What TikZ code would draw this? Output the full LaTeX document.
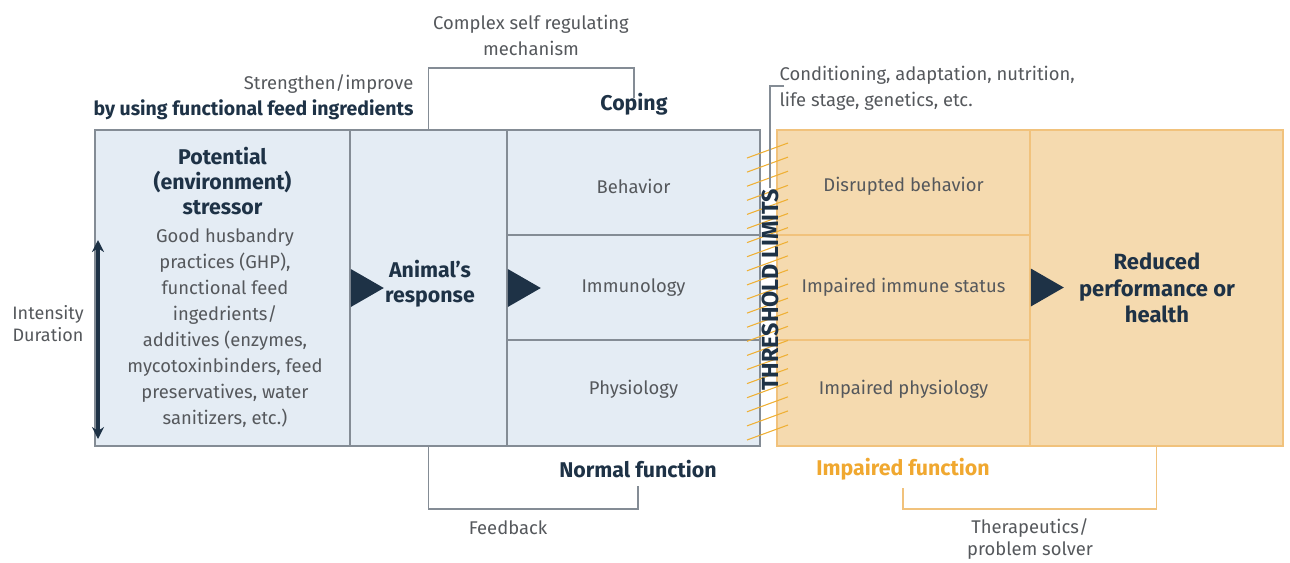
\documentclass[tikz,border=0pt]{standalone}
\usepackage{fontspec}
\setmainfont{Fira Sans}
\usetikzlibrary{positioning,arrows.meta}

\definecolor{boxblue}{HTML}{E4ECF4}
\definecolor{edgegray}{HTML}{848C95}
\definecolor{navy}{HTML}{1E3246}
\definecolor{boxorange}{HTML}{F5DAAF}
\definecolor{edgeorange}{HTML}{F1C27C}
\definecolor{textorange}{HTML}{F0A830}
\definecolor{hatchorange}{HTML}{EFB035}
\definecolor{txtgray}{HTML}{55585C}

\tikzset{
  bluebox/.style 2 args={draw=edgegray, line width=1.2pt, fill=boxblue,
    minimum width=#1*0.75pt, minimum height=#2*0.75pt, inner sep=0pt},
  orangebox/.style 2 args={draw=edgeorange, line width=1.2pt, fill=boxorange,
    minimum width=#1*0.75pt, minimum height=#2*0.75pt, inner sep=0pt},
  graytext/.style={text=txtgray, font=\fontsize{13.8}{19.5}\selectfont, align=center, inner sep=1pt},
  headtext/.style={text=navy, font=\bfseries\fontsize{16}{18.5}\selectfont, align=center, inner sep=1pt},
  bracket/.style={draw=edgegray, line width=0.9pt},
  obracket/.style={draw=edgeorange, line width=0.9pt},
  hatch/.style={draw=hatchorange, line width=0.8pt},
}

\begin{document}
\begin{tikzpicture}[x=0.75pt, y=-0.75pt]
  \useasboundingbox (0,0) rectangle (1290,562);

  % normal side
  \node[bluebox={255}{316}] (stress) at (222.5,288) {};
  \node[bluebox={157}{316}] (resp) at (428.5,288) {};
  \node[bluebox={253}{105}] (beh) at (633.5,182.5) {};
  \node[bluebox={253}{105}] (imm) at (633.5,287.5) {};
  \node[bluebox={253}{106}] (phy) at (633.5,393) {};

  % impaired side
  \node[orangebox={253}{105}] (dbeh) at (903.5,182.5) {};
  \node[orangebox={253}{105}] (dimm) at (903.5,287.5) {};
  \node[orangebox={253}{106}] (dphy) at (903.5,393) {};
  \node[orangebox={253}{316}] (red) at (1156.5,288) {};

  % texts in the boxes
  \node[headtext] (stresshead) at (222.5,181) {Potential\\(environment)\\stressor};
  \node[graytext] (stressbody) at (225,328) {Good husbandry\\practices (GHP),\\functional feed\\ingedrients/\\additives (enzymes,\\mycotoxinbinders, feed\\preservatives, water\\sanitizers, etc.)};
  \node[headtext] (resptxt) at (430,284) {Animal's\\response};
  \node[graytext] at ([yshift=-3pt]beh) {Behavior};
  \node[graytext] at (imm) {Immunology};
  \node[graytext] at ([yshift=3pt]phy) {Physiology};
  \node[graytext] at ([yshift=-3pt]dbeh) {Disrupted behavior};
  \node[graytext] at (dimm) {Impaired immune status};
  \node[graytext] at ([yshift=3pt]dphy) {Impaired physiology};
  \node[headtext, font=\bfseries\fontsize{16.5}{20}\selectfont] (redtxt) at (1157,288) {Reduced\\performance or\\health};

  % triangles between the stages
  \foreach \n in {stress.east, resp.east, dimm.east}
    \fill[navy] (\n) ++(0,-19) -- ++(33,19) -- ++(-33,19) -- cycle;

  % intensity arrow
  \coordinate (arrtop) at (98,240);
  \coordinate (arrbot) at (98,439);
  \draw[navy, line width=2.6pt, {Stealth[length=9pt,width=9pt]}-{Stealth[length=9pt,width=9pt]}] (arrtop) -- (arrbot);
  \node[graytext, font=\fontsize{13.5}{16.5}\selectfont] (intens) at (48,324) {Intensity\\Duration};

  % threshold
  \foreach \i in {0,...,20}
    \draw[hatch] (747,{158+\i*14.1}) -- ++(41,-15);
  \node[headtext, rotate=90, font=\bfseries\fontsize{17.5}{19}\selectfont] (thr) at (770,290) {THRESHOLD LIMITS};

  % labels above
  \node[graytext] (complex) at (531,35) {Complex self regulating\\mechanism};
  \coordinate (cplx) at (531,68);
  \node[headtext] (coping) at (634,104) {Coping};
  \draw[bracket] (resp.north) |- (cplx) -| ([yshift=-5pt]coping.north);
  \node[graytext, anchor=east] (streng) at (415,84) {Strengthen/improve};
  \node[headtext, anchor=east, font=\bfseries\fontsize{14.6}{16}\selectfont] (byusing) at (415,110) {by using functional feed ingredients};
  \node[graytext, anchor=west, align=left] (cond) at (778,88) {Conditioning, adaptation, nutrition,\\life stage, genetics, etc.};
  \coordinate (condtick) at (784,86);
  \draw[bracket] (condtick) -- (770,86) -- (thr.east);

  % labels below
  \node[headtext] (normal) at (638,469) {Normal function};
  \node[headtext, text=textorange] (impaired) at (903,469) {Impaired function};
  \coordinate (fb) at (531,509);
  \coordinate (tp) at (1030,509);
  \draw[bracket] (resp.south) |- (fb) -| ([yshift=-5pt]normal.south);
  \draw[obracket] (red.south) |- (tp) -| ([yshift=-5pt]impaired.south);
  \node[graytext] (feedback) at (508,528) {Feedback};
  \node[graytext, font=\fontsize{13.8}{17}\selectfont] (thera) at (1030,539) {Therapeutics/\\problem solver};
\end{tikzpicture}
\end{document}
